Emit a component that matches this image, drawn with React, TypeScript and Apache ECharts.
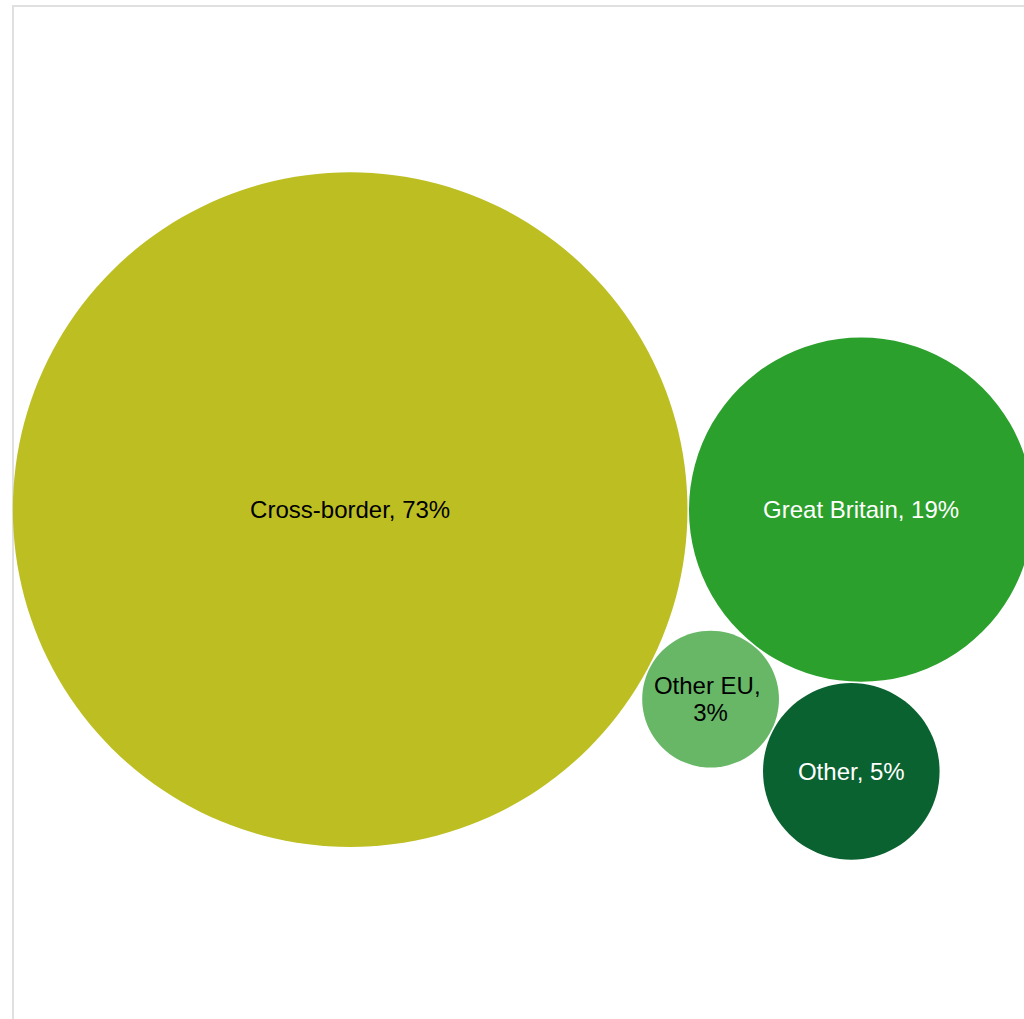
import React, { useEffect, useRef } from "react";
import * as echarts from "echarts";

const categories = ["Cross-border", "Great Britain", "Other EU", "Other"];
const shares = [73, 19, 3, 5];
const colors = ["#bdbe22", "#2ca02c", "#67b767", "#0a6230"];
const labelColors = ["#000000", "#ffffff", "#000000", "#ffffff"];

const W = 1024;
const H = 1019;
const RADIUS_PER_SQRT = 39.48;
const PAD = 1.5;
const CENTER = [523, 516];

type C = { x: number; y: number; r: number };

function placeTangent(a: C, b: C, r: number): C {
  const da = a.r + r + PAD;
  const db = b.r + r + PAD;
  const dx = b.x - a.x;
  const dy = b.y - a.y;
  const d = Math.sqrt(dx * dx + dy * dy);
  const t = (da * da - db * db + d * d) / (2 * d);
  const h = Math.sqrt(Math.max(0, da * da - t * t));
  const px = a.x + (dx * t) / d;
  const py = a.y + (dy * t) / d;
  const s1 = { x: px - (dy * h) / d, y: py + (dx * h) / d, r };
  const s2 = { x: px + (dy * h) / d, y: py - (dx * h) / d, r };
  return s1.y > s2.y ? s1 : s2;
}

function layout(): C[] {
  const radii = shares.map((v) => RADIUS_PER_SQRT * Math.sqrt(v));
  const a: C = { x: 0, y: 0, r: radii[0] };
  const b: C = { x: radii[0] + radii[1] + PAD, y: 0, r: radii[1] };
  const c = placeTangent(a, b, radii[2]);
  const d = placeTangent(b, c, radii[3]);
  const all = [a, b, c, d];
  const minX = Math.min(...all.map((k) => k.x - k.r));
  const maxX = Math.max(...all.map((k) => k.x + k.r));
  const minY = Math.min(...all.map((k) => k.y - k.r));
  const maxY = Math.max(...all.map((k) => k.y + k.r));
  const ox = CENTER[0] - (minX + maxX) / 2;
  const oy = CENTER[1] - (minY + maxY) / 2;
  return all.map((k) => ({ x: k.x + ox, y: k.y + oy, r: k.r }));
}

export default function App() {
  const ref = useRef<HTMLDivElement>(null);
  useEffect(() => {
    document.body.style.margin = "0";
    if (!ref.current) return;
    const chart = echarts.init(ref.current, null, { renderer: "svg" });
    const circles = layout();
    const data = categories.map((name, i) => ({
      name,
      value: [circles[i].x, circles[i].y, shares[i]],
      symbolSize: circles[i].r * 2,
      itemStyle: { color: colors[i], opacity: 1 },
      label: {
        color: labelColors[i],
        width: circles[i].r * 2 - 14,
      },
    }));
    chart.setOption({
      animation: false,
      backgroundColor: "#ffffff",
      grid: { left: 0, right: 0, top: 0, bottom: 0 },
      xAxis: { type: "value", min: 0, max: W, show: false },
      yAxis: { type: "value", min: 0, max: H, inverse: true, show: false },
      graphic: [
        {
          type: "rect",
          shape: { x: 13, y: 6, width: 1400, height: 1400 },
          style: { fill: "none", stroke: "#e0e0e0", lineWidth: 2 },
          silent: true,
        },
      ],
      series: [
        {
          type: "scatter",
          symbol: "circle",
          data,
          itemStyle: { opacity: 1 },
          label: {
            show: true,
            position: "inside",
            formatter: (p: any) => `${p.name}, ${p.value[2]}%`,
            fontFamily: "Liberation Sans, Arial, sans-serif",
            fontSize: 24,
            lineHeight: 27,
            overflow: "break",
            align: "center",
          },
          emphasis: { disabled: true },
        },
      ],
    });
    return () => chart.dispose();
  }, []);
  return <div ref={ref} style={{ width: W, height: H }} />;
}
